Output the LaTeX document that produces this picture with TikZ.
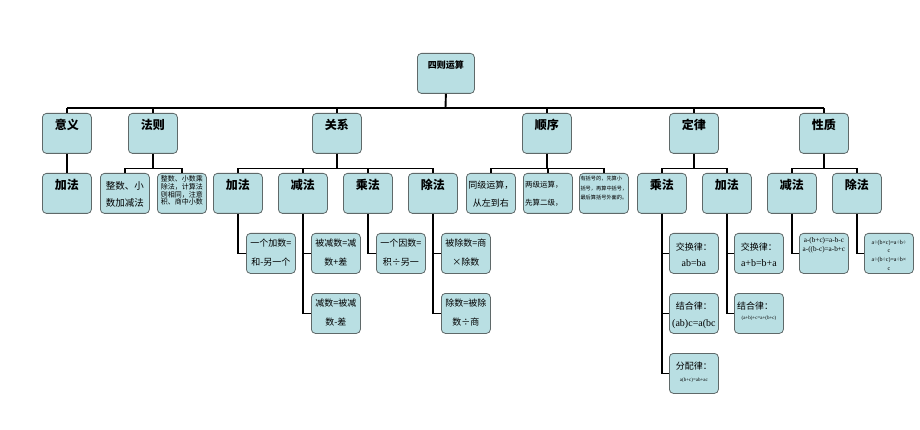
\documentclass[tikz,border=0pt]{standalone}
\usepackage{fontspec}
\setmainfont{Noto Sans CJK SC}
\newfontfamily\lat{Liberation Serif}
\definecolor{boxfill}{RGB}{185,223,227}
\definecolor{boxline}{RGB}{95,105,105}
\newcommand\fs[2]{\fontsize{#1}{#2}\selectfont}
\begin{document}
\begin{tikzpicture}[x=1pt,y=-1pt,
  box/.style={draw=boxline, fill=boxfill, line width=0.8pt, rounded corners=4pt,
    minimum width=49pt, minimum height=40pt, anchor=north west, inner sep=0pt},
  conn/.style={draw=black, line width=1.3pt},
  bus/.style={draw=black, line width=1.9pt},
  hd/.style={font=\bfseries\fs{12}{14}, inner sep=0pt},
  tx/.style={align=center, inner sep=0pt},
]
\path[use as bounding box] (0,0) rectangle (920,430);

% root
\node[box, minimum width=57pt] (root) at (417,53) {};
\node[hd, font=\bfseries\fs{9}{11}] (root-t) at ([yshift=-12pt]root.north) {四则运算};

% level 1
\node[box] (yy) at (42,113) {};  \node[hd] (yy-t) at ([yshift=-12pt]yy.north) {意义};
\node[box] (fz) at (128,113) {}; \node[hd] (fz-t) at ([yshift=-12pt]fz.north) {法则};
\node[box] (gx) at (312,113) {}; \node[hd] (gx-t) at ([yshift=-12pt]gx.north) {关系};
\node[box] (sx) at (522,113) {}; \node[hd] (sx-t) at ([yshift=-12pt]sx.north) {顺序};
\node[box] (dl) at (669,113) {}; \node[hd] (dl-t) at ([yshift=-12pt]dl.north) {定律};
\node[box] (xz) at (799,113) {}; \node[hd] (xz-t) at ([yshift=-12pt]xz.north) {性质};

% level 2
\node[box] (yy1) at (42,173) {};  \node[hd] (yy1-t) at ([yshift=-12pt]yy1.north) {加法};
\node[box] (fz1) at (100,173) {}; \node[tx, font=\fs{9.5}{17}] (fz1-t) at ([yshift=-21.5pt]fz1.north) {整数、小\\数加减法};
\node[box] (fz2) at (157,173) {}; \node[tx, font=\fs{7}{7.8}] (fz2-t) at ([yshift=-17.5pt]fz2.north) {整数、小数乘\\除法，计算法\\则相同，注意\\积、商中小数};
\node[box] (gx1) at (213,173) {}; \node[hd] (gx1-t) at ([yshift=-12pt]gx1.north) {加法};
\node[box] (gx2) at (278,173) {}; \node[hd] (gx2-t) at ([yshift=-12pt]gx2.north) {减法};
\node[box] (gx3) at (343,173) {}; \node[hd] (gx3-t) at ([yshift=-12pt]gx3.north) {乘法};
\node[box] (gx4) at (408,173) {}; \node[hd] (gx4-t) at ([yshift=-12pt]gx4.north) {除法};
\node[box] (sx1) at (466,173) {}; \node[tx, font=\fs{9}{18}] (sx1-t) at ([yshift=-21pt]sx1.north) {同级运算，\\从左到右};
\node[box] (sx2) at (523,173) {}; \node[tx, font=\fs{7.5}{18}] (sx2-t) at ([yshift=-21pt,xshift=-4pt]sx2.north) {两级运算，\\先算二级，};
\node[box] (sx3) at (579,173) {}; \node[tx, align=left, font=\fs{5.2}{9.5}] (sx3-t) at ([yshift=-15.5pt]sx3.north) {有括号的，先算小\\括号，再算中括号，\\最后算括号外面的。};
\node[box] (dl1) at (637,173) {}; \node[hd] (dl1-t) at ([yshift=-12pt]dl1.north) {乘法};
\node[box] (dl2) at (702,173) {}; \node[hd] (dl2-t) at ([yshift=-12pt]dl2.north) {加法};
\node[box] (xz1) at (767,173) {}; \node[hd] (xz1-t) at ([yshift=-12pt]xz1.north) {减法};
\node[box] (xz2) at (832,173) {}; \node[hd] (xz2-t) at ([yshift=-12pt]xz2.north) {除法};

% level 3 -- relations
\node[box] (gx1a) at (246,233) {}; \node[tx, font=\fs{9}{19}] (gx1a-t) at ([yshift=-19.5pt]gx1a.north) {一个加数=\\和-另一个};
\node[box] (gx2a) at (311,233) {}; \node[tx, font=\fs{9}{19}] (gx2a-t) at ([yshift=-19.5pt]gx2a.north) {被减数=减\\数+差};
\node[box] (gx2b) at (311,293) {}; \node[tx, font=\fs{9}{19}] (gx2b-t) at ([yshift=-19.5pt]gx2b.north) {减数=被减\\数-差};
\node[box] (gx3a) at (376,233) {}; \node[tx, font=\fs{9}{19}] (gx3a-t) at ([yshift=-19.5pt]gx3a.north) {一个因数=\\积÷另一};
\node[box] (gx4a) at (441,233) {}; \node[tx, font=\fs{9}{19}] (gx4a-t) at ([yshift=-19.5pt]gx4a.north) {被除数=商\\×除数};
\node[box] (gx4b) at (441,293) {}; \node[tx, font=\fs{9}{19}] (gx4b-t) at ([yshift=-19.5pt]gx4b.north) {除数=被除\\数÷商};

% level 3 -- laws
\node[box] (dl1a) at (669,233) {};
\node[tx, font=\fs{9}{11}] (dl1a-t) at ([yshift=-14pt]dl1a.north) {交换律：};
\node[tx, font=\lat\fs{10}{12}] (dl1a-f) at ([yshift=-30pt]dl1a.north) {ab=ba};
\node[box] (dl1b) at (669,293) {};
\node[tx, font=\fs{9}{11}] (dl1b-t) at ([yshift=-13pt]dl1b.north) {结合律：};
\node[tx, font=\lat\fs{10}{12}] (dl1b-f) at ([yshift=-31pt]dl1b.north) {(ab)c=a(bc};
\node[box] (dl1c) at (669,353) {};
\node[tx, font=\fs{9}{11}] (dl1c-t) at ([yshift=-13pt]dl1c.north) {分配律：};
\node[tx, font=\lat\fs{5}{6}] (dl1c-f) at ([yshift=-27pt]dl1c.north) {a(b+c)=ab+ac};
\node[box] (dl2a) at (734,233) {};
\node[tx, font=\fs{9}{11}] (dl2a-t) at ([yshift=-14pt]dl2a.north) {交换律：};
\node[tx, font=\lat\fs{10}{12}] (dl2a-f) at ([yshift=-30pt]dl2a.north) {a+b=b+a};
\node[box] (dl2b) at (734,293) {};
\node[tx, font=\fs{9}{11}, anchor=west] (dl2b-t) at ([yshift=-13pt,xshift=3pt]dl2b.north west) {结合律：};
\node[tx, font=\lat\fs{5}{6}] (dl2b-f) at ([yshift=-25pt]dl2b.north) {(a+b)+c=a+(b+c)};

% level 3 -- properties
\node[box] (xz1a) at (799,233) {};
\node[tx, font=\lat\fs{7.2}{9}] (xz1a-t) at ([yshift=-12.5pt]xz1a.north) {a-(b+c)=a-b-c\\a-((b-c)=a-b+c};
\node[box] (xz2a) at (864,233) {};
\node[tx, font=\lat\fs{6}{8.7}] (xz2a-t) at ([yshift=-22pt]xz2a.north) {a÷(b×c)=a÷b÷\\c\\a÷(b÷c)=a÷b×\\c};

% connectors level 0-1
\coordinate (b0) at (445.5,108);
\draw[bus] (root.south) -- (b0);
\draw[bus] (yy.north |- b0) -- (xz.north |- b0);
\foreach \n in {yy,fz,gx,sx,dl,xz} \draw[conn] (\n.north |- b0) -- (\n.north);

% connectors level 1-2
\draw[conn] (yy.south) -- (yy1.north);
\foreach \c in {fz1,fz2} \draw[conn] (fz.south) -- ++(0,15) -| (\c.north);
\foreach \c in {gx1,gx2,gx3,gx4} \draw[conn] (gx.south) -- ++(0,15) -| (\c.north);
\foreach \c in {sx1,sx2,sx3} \draw[conn] (sx.south) -- ++(0,15) -| (\c.north);
\foreach \c in {dl1,dl2} \draw[conn] (dl.south) -- ++(0,15) -| (\c.north);
\foreach \c in {xz1,xz2} \draw[conn] (xz.south) -- ++(0,15) -| (\c.north);

% connectors level 2-3
\draw[conn] (gx1.south) |- (gx1a.west);
\draw[conn] (gx2.south) |- (gx2a.west);
\draw[conn] (gx2.south) |- (gx2b.west);
\draw[conn] (gx3.south) |- (gx3a.west);
\draw[conn] (gx4.south) |- (gx4a.west);
\draw[conn] (gx4.south) |- (gx4b.west);
\draw[conn] (dl1.south) |- (dl1a.west);
\draw[conn] (dl1.south) |- (dl1b.west);
\draw[conn] (dl1.south) |- (dl1c.west);
\draw[conn] (dl2.south) |- (dl2a.west);
\draw[conn] (dl2.south) |- (dl2b.west);
\draw[conn] (xz1.south) |- (xz1a.west);
\draw[conn] (xz2.south) |- (xz2a.west);
\end{tikzpicture}
\end{document}
